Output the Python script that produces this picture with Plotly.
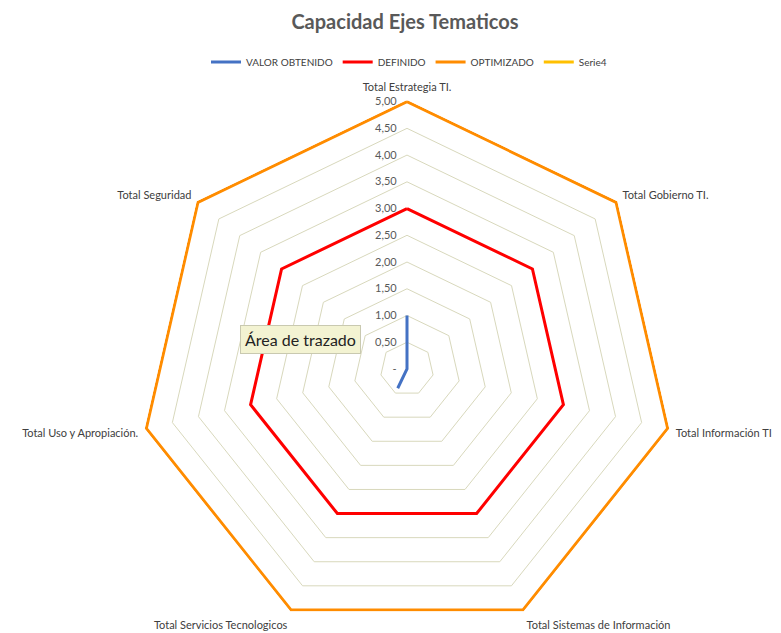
import plotly.graph_objects as go

# ejes del radar (sentido horario desde arriba)
EJES = [
    "Total Estrategia TI.",
    "Total Gobierno TI.",
    "Total Información TI",
    "Total Sistemas de Información",
    "Total Servicios Tecnologicos",
    "Total Uso y Apropiación.",
    "Total Seguridad",
]

VALOR_OBTENIDO = [1.0, 0.0, 0.0, 0.0, 0.4, 0.0, 0.0]
DEFINIDO = [3.0, 3.0, 3.0, 3.0, 3.0, 3.0, 3.0]
OPTIMIZADO = [5.0, 5.0, 5.0, 5.0, 5.0, 5.0, 5.0]
SERIE4 = [None, None, None, None, None, None, None]

RADIAL_TICKS = [0, 0.5, 1.0, 1.5, 2.0, 2.5, 3.0, 3.5, 4.0, 4.5, 5.0]
RADIAL_LABELS = ["-", "0,50", "1,00", "1,50", "2,00", "2,50", "3,00", "3,50", "4,00", "4,50", "5,00"]

FONT = "Lato, Open Sans, sans-serif"
GRAY = "#595959"

CX, CY, R = 399, 361, 269
W, H = 781, 633


def closed(values):
    return values + values[:1]


def main() -> None:
    fig = go.Figure()
    series = [
        ("VALOR OBTENIDO", VALOR_OBTENIDO, "#4472c4"),
        ("DEFINIDO", DEFINIDO, "#ff0000"),
        ("OPTIMIZADO", OPTIMIZADO, "#ff8c00"),
        ("Serie4", SERIE4, "#ffc000"),
    ]
    for name, vals, color in series:
        fig.add_trace(go.Scatterpolar(
            r=closed(vals), theta=closed(EJES),
            mode="lines", name=name,
            line=dict(color=color, width=3),
            cliponaxis=False, connectgaps=False,
            hoverinfo="skip",
        ))

    fig.update_layout(
        width=W, height=H,
        paper_bgcolor="white",
        margin=dict(l=0, r=0, t=0, b=0),
        font=dict(family=FONT, size=11, color=GRAY),
        title=dict(
            text="<b>Capacidad Ejes Tematicos</b>",
            x=397 / W, xanchor="center", y=1 - 14 / H, yanchor="middle",
            font=dict(family=FONT, size=20, color=GRAY),
        ),
        legend=dict(
            orientation="h", x=401 / W, xanchor="center", y=1 - 54 / H, yanchor="middle",
            font=dict(family=FONT, size=10, color="#404040"),
            itemwidth=30, tracegroupgap=0,
        ),
        polar=dict(
            domain=dict(x=[(CX - R) / W, (CX + R) / W], y=[(H - CY - R) / H, (H - CY + R) / H]),
            bgcolor="white",
            gridshape="linear",
            radialaxis=dict(
                # a little headroom so the 5,00 line is not clipped in half
                range=[0, 5.03], angle=90, side="counterclockwise", tickangle=90,
                tickvals=RADIAL_TICKS, ticktext=RADIAL_LABELS,
                showline=False, ticks="outside", ticklen=6, tickcolor="rgba(0,0,0,0)",
                gridcolor="#d8d8bc", gridwidth=1,
                tickfont=dict(family=FONT, size=11, color=GRAY),
            ),
            angularaxis=dict(
                direction="clockwise", rotation=90,
                showgrid=False, showline=False,
                ticks="outside", ticklen=4, tickcolor="rgba(0,0,0,0)",
                tickfont=dict(family=FONT, size=11, color="#404040"),
            ),
        ),
        annotations=[dict(
            text="Área de trazado", x=292 / W, y=1 - 331 / H,
            xref="paper", yref="paper", showarrow=False,
            font=dict(family=FONT, size=16, color="#222222"),
            bgcolor="#f3f3d2", bordercolor="#c9c9b0", borderwidth=1, borderpad=4,
        )],
    )
    fig.write_html("out.html")


if __name__ == "__main__":
    main()
